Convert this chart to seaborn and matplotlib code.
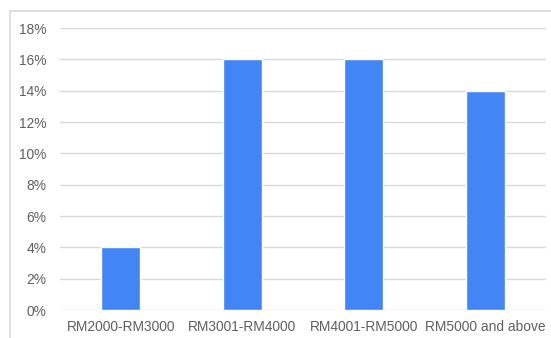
import matplotlib
matplotlib.use("Agg")
import matplotlib.pyplot as plt
import seaborn as sns
import pandas as pd
from matplotlib.lines import Line2D
from matplotlib.ticker import FuncFormatter, MultipleLocator

categories = ["RM2000-RM3000", "RM3001-RM4000", "RM4001-RM5000", "RM5000 and above"]
values = [4, 16, 16, 14]

df = pd.DataFrame({"category": categories, "value": values})

sns.set_theme(style="white")
plt.rcParams["font.family"] = ["Liberation Sans", "DejaVu Sans"]

fig = plt.figure(figsize=(5.51, 3.38), dpi=100)
ax = fig.add_axes([60 / 551, 1 - 310 / 338, 486 / 551, 282 / 338])

sns.barplot(data=df, x="category", y="value", color="#4285F4", saturation=1,
            width=0.32, ax=ax, zorder=3)

ax.set_ylim(0, 18)
ax.set_xlim(-0.5, 3.5)
ax.yaxis.set_major_locator(MultipleLocator(2))
ax.yaxis.set_major_formatter(FuncFormatter(lambda v, p: f"{int(v)}%"))
ax.grid(axis="y", color="#d9d9d9", linewidth=1, zorder=0)
ax.set_axisbelow(True)
for s in ax.spines.values():
    s.set_visible(False)
ax.set_xlabel("")
ax.set_ylabel("")
ax.tick_params(axis="both", length=0, labelsize=9.9, colors="#5f5f5f")
ax.tick_params(axis="y", pad=10)
ax.tick_params(axis="x", pad=7)

# outer frame
fig.add_artist(Line2D([10 / 551, 10 / 551], [0, 1 - 11 / 338], color="#d9d9d9", lw=1.2,
                      transform=fig.transFigure))
fig.add_artist(Line2D([10 / 551, 1], [1 - 11 / 338, 1 - 11 / 338], color="#d9d9d9", lw=1.2,
                      transform=fig.transFigure))

fig.savefig("out.png", dpi=100)
